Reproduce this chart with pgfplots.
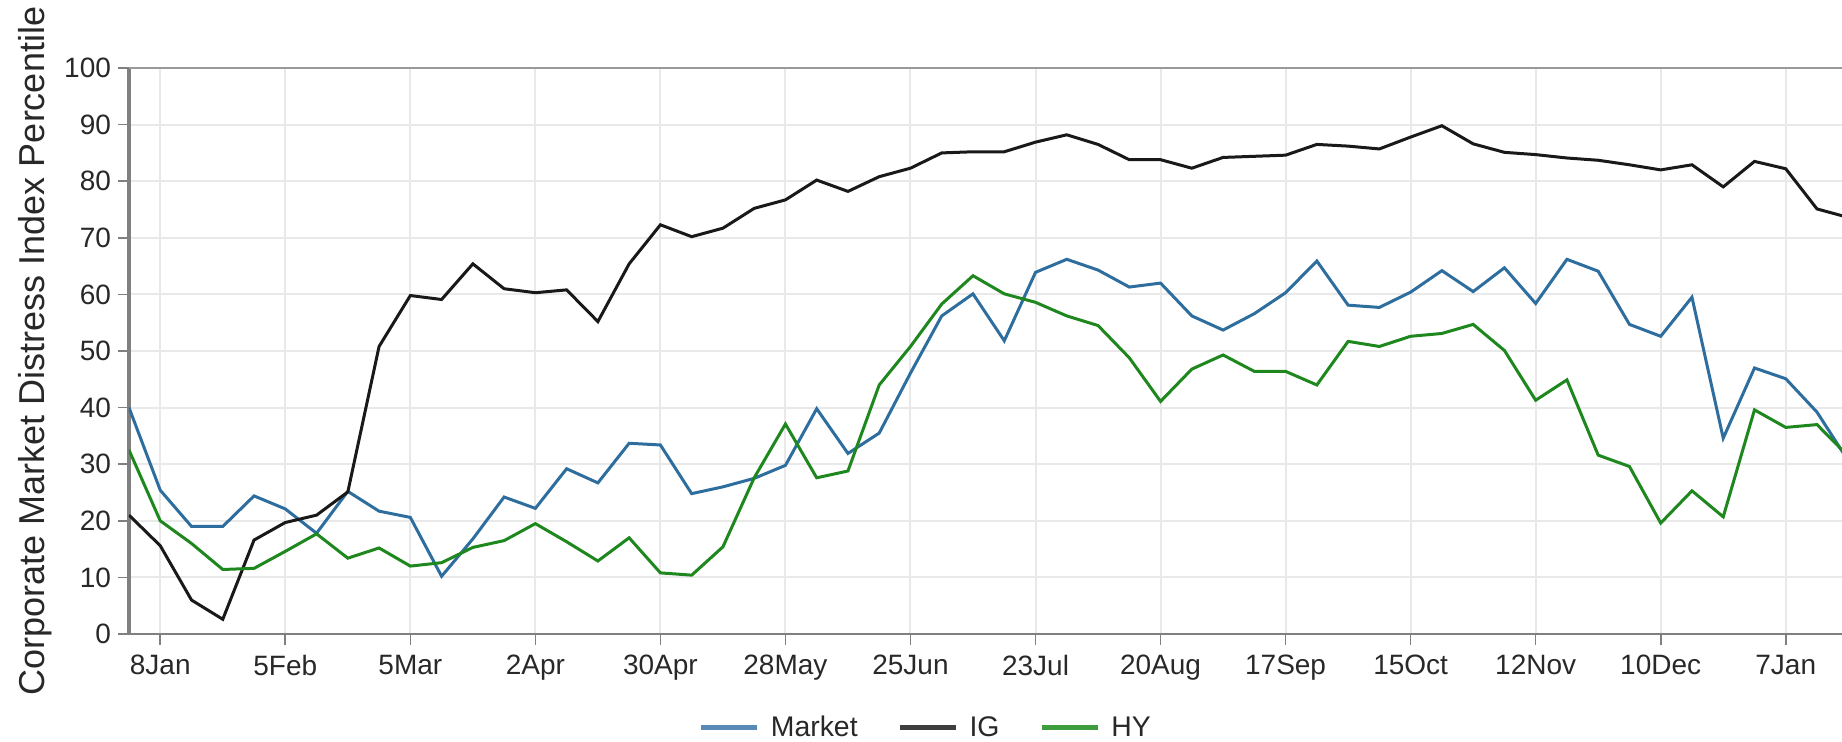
\documentclass[border=0pt]{standalone}
\usepackage{fontspec}
\setmainfont{Liberation Sans}
\usepackage{pgfplots}
\pgfplotsset{compat=1.18}
\definecolor{mkt}{RGB}{46,110,158}
\definecolor{ig}{RGB}{25,25,25}
\definecolor{hy}{RGB}{30,135,30}
\definecolor{mktl}{RGB}{88,138,182}
\definecolor{igl}{RGB}{62,62,62}
\definecolor{hyl}{RGB}{62,158,62}
\definecolor{gridc}{RGB}{233,233,233}
\definecolor{axisc}{RGB}{128,128,128}
\definecolor{txt}{RGB}{40,40,40}

% weekly values, week 0 = 1 Jan
\pgfplotstableread{
k market ig hy
0 40.0 21.0 32.5
1 25.4 15.6 20.0
2 19.0 6.0 16.0
3 19.0 2.6 11.4
4 24.4 16.6 11.6
5 22.1 19.7 14.6
6 17.8 21.0 17.7
7 25.2 25.1 13.4
8 21.7 50.8 15.2
9 20.6 59.8 12.0
10 10.2 59.1 12.6
11 16.8 65.4 15.3
12 24.2 61.0 16.5
13 22.2 60.3 19.5
14 29.2 60.8 16.3
15 26.7 55.2 12.9
16 33.7 65.4 17.0
17 33.4 72.3 10.8
18 24.8 70.2 10.4
19 26.0 71.7 15.4
20 27.5 75.2 27.6
21 29.8 76.7 37.1
22 39.8 80.2 27.6
23 31.9 78.2 28.8
24 35.5 80.8 44.0
25 46.1 82.3 50.8
26 56.2 85.0 58.3
27 60.1 85.2 63.3
28 51.8 85.2 60.1
29 63.9 86.9 58.6
30 66.2 88.2 56.2
31 64.3 86.5 54.5
32 61.3 83.8 48.8
33 62.0 83.8 41.1
34 56.2 82.3 46.8
35 53.7 84.2 49.3
36 56.6 84.4 46.4
37 60.3 84.6 46.4
38 65.9 86.5 44.0
39 58.1 86.2 51.7
40 57.7 85.7 50.8
41 60.4 87.8 52.6
42 64.2 89.8 53.1
43 60.5 86.6 54.7
44 64.7 85.1 50.1
45 58.4 84.7 41.3
46 66.2 84.1 44.9
47 64.1 83.7 31.6
48 54.7 82.9 29.6
49 52.6 82.0 19.6
50 59.5 82.9 25.3
51 34.6 79.0 20.7
52 47.0 83.5 39.6
53 45.1 82.2 36.5
54 39.2 75.1 37.0
55 30.6 73.6 31.4
}\distress

\begin{document}
\begin{tikzpicture}
\begin{axis}[
    name=ax,
    scale only axis,
    width=856.5pt, height=283pt,
    xmin=0, xmax=54.8,
    ymin=0, ymax=100,
    axis lines=left,
    axis line style={-},
    x axis line style={draw=axisc, line width=1.3pt},
    y axis line style={draw=axisc, line width=2pt},
    xtick={1,5,9,13,17,21,25,29,33,37,41,45,49,53},
    xticklabels={8Jan,5Feb,5Mar,2Apr,30Apr,28May,25Jun,23Jul,20Aug,17Sep,15Oct,12Nov,10Dec,7Jan},
    ytick={0,10,...,100},
    tick align=outside,
    major tick length=5.5pt,
    tick style={draw=axisc, line width=0.8pt},
    xmajorgrids, ymajorgrids,
    major grid style={draw=gridc, line width=1pt},
    ticklabel style={font=\fontsize{14pt}{16pt}\selectfont, text=txt},
    xticklabel style={yshift=-1.5pt},
    /pgf/number format/assume math mode=true,
    ylabel={Corporate Market Distress Index Percentile},
    ylabel style={font=\fontsize{18pt}{21pt}\selectfont, text=txt,
        at={(axis description cs:-0.055,0.5)}, anchor=center},
    legend columns=3,
    legend image code/.code={\draw[#1, line width=2.5pt] (0pt,0pt) -- (28pt,0pt); \path (32.5pt,0pt);},
    legend style={at={(axis description cs:0.4658,-0.166)}, anchor=center,
        draw=none, fill=none, font=\fontsize{14.2pt}{16pt}\selectfont, text=txt,
        /tikz/every even column/.append style={column sep=18pt}},
]
\addplot[mkt, line width=1.5pt, forget plot] table[x=k, y=market] {\distress};
\addplot[ig, line width=1.5pt, forget plot] table[x=k, y=ig] {\distress};
\addplot[hy, line width=1.5pt, forget plot] table[x=k, y=hy] {\distress};
\addlegendimage{mktl}
\addlegendentry{Market}
\addlegendimage{igl}
\addlegendentry{IG}
\addlegendimage{hyl}
\addlegendentry{HY}
\end{axis}
\draw[draw=axisc!80, line width=1pt] (ax.north west) -- (ax.north east);
\pgfresetboundingbox
\path[use as bounding box] (-64.5pt,-53.5pt) rectangle (856.5pt,317pt);
\end{tikzpicture}
\end{document}
